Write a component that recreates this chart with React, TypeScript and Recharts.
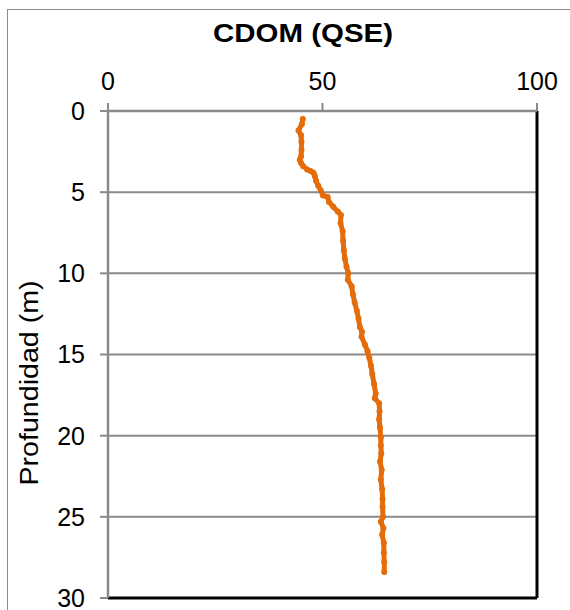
import React from 'react';
import { ScatterChart, Scatter, XAxis, YAxis, CartesianGrid, ReferenceLine } from 'recharts';

const depths = [
  0.5, 0.8, 1.2, 1.5, 1.9, 2.4, 2.8, 3.0, 3.2, 3.4, 3.6, 3.7, 3.8, 4.0, 4.3, 4.6, 4.9, 5.2, 5.3, 5.6,
  5.9, 6.2, 6.4, 6.9, 7.4, 8.0, 8.6, 9.1, 9.6, 10.0, 10.4, 10.8, 11.3, 11.8, 12.3, 12.8, 13.3, 13.6, 13.9, 14.4,
  14.8, 15.2, 15.7, 16.2, 16.8, 17.4, 17.7, 18.0, 18.5, 19.0, 19.5, 20.1, 20.6, 21.1, 21.6, 22.1, 22.7, 23.3, 23.9, 24.4,
  25.0, 25.3, 25.7, 26.1, 26.6, 27.2, 27.8, 28.4,
];
const cdomValues = [
  45.4, 45.2, 44.4, 45.0, 45.1, 45.1, 45.0, 44.7, 45.0, 45.5, 46.4, 47.2, 47.9, 48.2, 48.5, 49.0, 49.6, 50.1, 51.2, 51.5,
  52.5, 53.6, 54.3, 54.2, 54.7, 54.8, 55.0, 55.2, 55.6, 56.0, 55.9, 56.8, 57.1, 57.5, 58.0, 58.4, 58.7, 59.2, 59.1, 59.9,
  60.5, 60.9, 61.3, 61.6, 62.0, 62.4, 62.2, 63.2, 63.3, 63.2, 63.4, 63.6, 63.6, 63.7, 63.4, 63.8, 63.6, 63.9, 64.0, 64.0,
  64.1, 63.6, 64.2, 63.9, 64.3, 64.3, 64.4, 64.4,
];
const xTicks = [0, 50, 100];
const yTicks = [0, 5, 10, 15, 20, 25, 30];
const titleText = 'CDOM (QSE)';
const yLabelText = 'Profundidad (m)';

const data = depths.map((d, i) => ({ depth: d, cdom: cdomValues[i] }));

const ORANGE = '#E46C0A';
const GRAY = '#8a8a8a';
const FONT = '"Liberation Sans", Arial, sans-serif';

const Dot = (props: any) => <circle cx={props.cx} cy={props.cy} r={3} fill={ORANGE} />;

export default function App() {
  return (
    <div style={{ position: 'absolute', left: 0, top: 0, width: 570, height: 610, overflow: 'hidden', background: '#fff' }}>
      <div
        style={{
          position: 'absolute',
          left: 7,
          top: 9,
          width: 700,
          height: 800,
          borderLeft: `1.5px solid ${GRAY}`,
          borderTop: `1.5px solid ${GRAY}`,
        }}
      />
      <div style={{ position: 'absolute', left: 0, top: 0 }}>
        <ScatterChart width={570} height={610} margin={{ top: 71, right: 33, bottom: 12, left: 48 }}>
          <CartesianGrid horizontal vertical={false} stroke={GRAY} strokeWidth={2} />
          <XAxis
            type="number"
            dataKey="cdom"
            orientation="top"
            domain={[0, 100]}
            ticks={xTicks}
            interval={0}
            height={40}
            axisLine={{ stroke: GRAY, strokeWidth: 2.5 }}
            tickLine={{ stroke: GRAY, strokeWidth: 2 }}
            tickSize={8}
            tickMargin={13}
            tick={{ fontSize: 25, fill: '#000', fontFamily: FONT }}
          />
          <YAxis
            type="number"
            dataKey="depth"
            reversed
            domain={[0, 30]}
            ticks={yTicks}
            interval={0}
            width={60}
            axisLine={{ stroke: GRAY, strokeWidth: 2.5 }}
            tickLine={{ stroke: GRAY, strokeWidth: 2 }}
            tickSize={8}
            tickMargin={15}
            tick={{ fontSize: 25, fill: '#000', fontFamily: FONT }}
          />
          <ReferenceLine x={100} stroke="#000" strokeWidth={3} />
          <ReferenceLine y={30} stroke="#000" strokeWidth={3} />
          <Scatter
            data={data}
            fill={ORANGE}
            line={{ stroke: ORANGE, strokeWidth: 5, strokeLinejoin: 'round', strokeLinecap: 'round' }}
            lineType="joint"
            shape={Dot}
            isAnimationActive={false}
          />
        </ScatterChart>
      </div>
      <svg width={570} height={610} style={{ position: 'absolute', left: 0, top: 0, pointerEvents: 'none' }}>
        <text
          x={303}
          y={42}
          textAnchor="middle"
          fontSize={25}
          fontWeight="bold"
          fontFamily={FONT}
          fill="#000"
          textLength={180}
          lengthAdjust="spacingAndGlyphs"
        >
          {titleText}
        </text>
        <text
          transform="translate(38,383) rotate(-90)"
          textAnchor="middle"
          fontSize={25}
          fontFamily={FONT}
          fill="#000"
          textLength={205}
          lengthAdjust="spacingAndGlyphs"
        >
          {yLabelText}
        </text>
      </svg>
    </div>
  );
}
